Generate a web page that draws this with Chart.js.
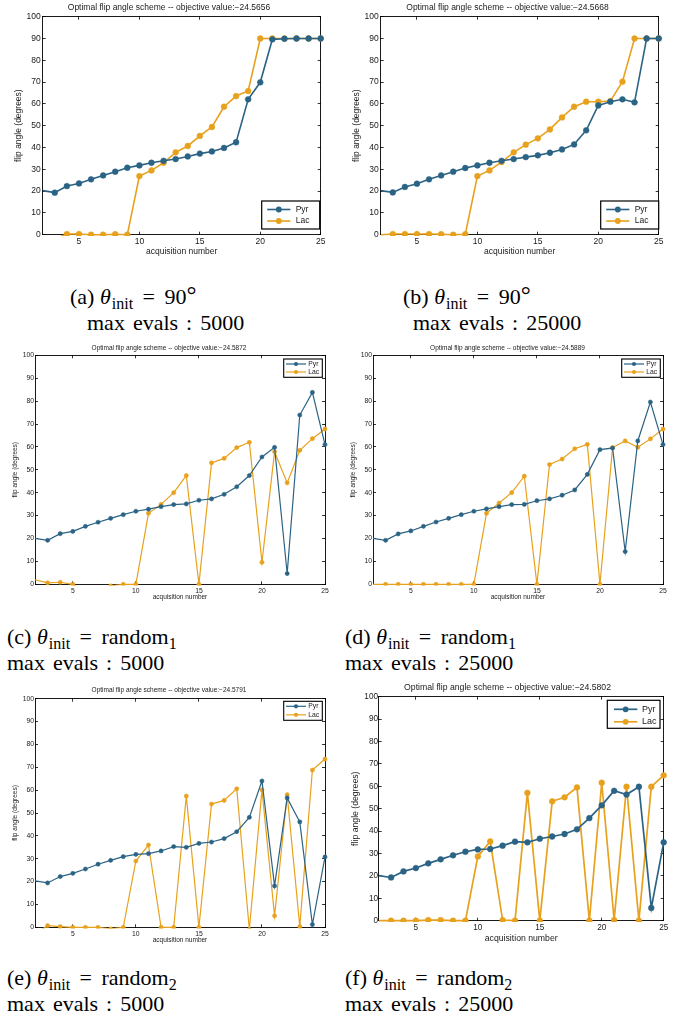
<!DOCTYPE html>
<html>
<head>
<meta charset="utf-8">
<script src="https://cdn.jsdelivr.net/npm/chart.js@4.4.1/dist/chart.umd.min.js"></script>
<style>
  html, body { margin: 0; padding: 0; background: #fff; }
  body { width: 677px; height: 1021px; position: relative; overflow: hidden; }
  canvas { position: absolute; }
  .cap { position: absolute; font-family: "Liberation Serif", "Times New Roman", serif; font-size: 22px; line-height: 26px; color: #000; white-space: nowrap; }
  .cap.evals { word-spacing: 2.5px; }
  .cap i { font-style: italic; margin-right: 1px; }
  .cap sub { font-size: 16px; line-height: 0; vertical-align: 0; position: relative; top: 5px; }
  .cap .rel { margin: 0 4px; }
  .cap .deg { font-size: 25px; line-height: 0; position: relative; top: -1px; }
</style>
</head>
<body>

<div class="cap" style="left:70px; top:284px;">(a) <i>θ</i><sub>init</sub> <span class="rel">=</span> 90<span class="deg">°</span></div>
<div class="cap evals" style="left:87px; top:310px;">max evals : 5000</div>
<div class="cap" style="left:403px; top:284px;">(b) <i>θ</i><sub>init</sub> <span class="rel">=</span> 90<span class="deg">°</span></div>
<div class="cap evals" style="left:413px; top:310px;">max evals : 25000</div>

<div class="cap" style="left:7px; top:624px;">(c) <i>θ</i><sub>init</sub> <span class="rel">=</span> random<sub>1</sub></div>
<div class="cap evals" style="left:7px; top:650px;">max evals : 5000</div>
<div class="cap" style="left:345px; top:624px;">(d) <i>θ</i><sub>init</sub> <span class="rel">=</span> random<sub>1</sub></div>
<div class="cap evals" style="left:345px; top:650px;">max evals : 25000</div>

<div class="cap" style="left:7px; top:965px;">(e) <i>θ</i><sub>init</sub> <span class="rel">=</span> random<sub>2</sub></div>
<div class="cap evals" style="left:7px; top:991px;">max evals : 5000</div>
<div class="cap" style="left:345px; top:965px;">(f) <i>θ</i><sub>init</sub> <span class="rel">=</span> random<sub>2</sub></div>
<div class="cap evals" style="left:345px; top:991px;">max evals : 25000</div>

<script>
// Acquisition indices shown on the x axis
const acquisition = [2, 3, 4, 5, 6, 7, 8, 9, 10, 11, 12, 13, 14, 15, 16, 17, 18, 19, 20, 21, 22, 23, 24, 25];
const xTickValues = [5, 10, 15, 20, 25];
const yTickValues = [0, 10, 20, 30, 40, 50, 60, 70, 80, 90, 100];
const seriesNames = ['Pyr', 'Lac'];
const objectiveValues = ['\u221224.5656', '\u221224.5668', '\u221224.5872', '\u221224.5889', '\u221224.5791', '\u221224.5802'];

// Optimised flip angles (degrees), theta_init = 90, 5000 evaluations
const pyrA = [20.2, 19.3, 22.3, 23.5, 25.4, 27.2, 28.9, 30.7, 31.8, 33.0, 33.9, 34.7, 35.9, 37.2, 38.2, 39.8, 42.4, 62.1, 69.9, 89.6, 89.9, 90, 90, 90];
const lacA = [-3, -2, 0.3, 0.3, 0, 0, 0.2, 0, 26.9, 29.5, 33.0, 37.8, 40.7, 45.3, 49.4, 58.7, 63.6, 65.9, 90, 90, 90, 90, 90, 90];
// theta_init = 90, 25000 evaluations
const pyrB = [20.2, 19.4, 21.9, 23.4, 25.4, 27.2, 28.9, 30.6, 31.8, 33.0, 33.9, 34.7, 35.6, 36.4, 37.6, 39.1, 41.4, 47.9, 59.3, 61.0, 62.1, 60.7, 90, 90];
const lacB = [0, 0.3, 0.3, 0.3, 0.3, 0.2, 0, 0.2, 26.9, 29.5, 33.3, 37.8, 41.3, 44.2, 48.3, 53.8, 58.7, 61.0, 61.0, 61.3, 70.2, 90, 90, 90];
// theta_init = random_1, 5000 evaluations
const pyrC = [20.1, 19.2, 22.1, 23.1, 25.3, 27.1, 28.8, 30.4, 31.9, 32.8, 33.9, 34.8, 35.1, 36.7, 37.3, 39.3, 42.6, 47.5, 55.6, 59.8, 4.7, 73.9, 83.8, 61.0];
const lacC = [2.0, 0.6, 0.9, 0, -3, -3, -0.7, 0, 0, 31.0, 34.9, 40.0, 47.5, 0, 53.0, 55.0, 59.7, 62.0, 9.6, 57.9, 44.3, 58.5, 63.6, 67.8];
// theta_init = random_1, 25000 evaluations
const pyrD = [20.1, 19.2, 22.0, 23.3, 25.3, 27.2, 28.8, 30.4, 31.9, 32.9, 33.9, 34.8, 34.9, 36.5, 37.3, 38.9, 41.2, 48.0, 58.8, 59.5, 14.3, 62.6, 79.6, 61.0];
const lacD = [0, 0, 0, 0, 0, 0, 0, 0, 0, 31.0, 35.5, 40.0, 47.2, 0, 52.3, 54.7, 59.2, 61.1, 0, 59.7, 62.6, 59.8, 63.5, 67.8];
// theta_init = random_2, 5000 evaluations
const pyrE = [20.3, 19.4, 22.2, 23.6, 25.5, 27.6, 29.3, 30.9, 31.9, 32.2, 33.4, 35.3, 35.0, 36.7, 37.3, 38.8, 41.8, 48.1, 64.0, 18.1, 56.6, 46.1, 1.2, 30.8];
const lacE = [-3, 0.7, 0.3, 0, 0, 0, -0.7, 0, 29.0, 36.0, 0, 0, 57.4, 0, 53.9, 55.5, 60.6, -1, 60.1, 5.0, 58.0, 0.3, 68.8, 73.6];
// theta_init = random_2, 25000 evaluations
const pyrF = [20.1, 19.3, 22.0, 23.5, 25.6, 27.4, 29.2, 30.8, 31.8, 32.0, 33.5, 35.3, 35.0, 36.6, 37.6, 38.7, 40.8, 45.8, 51.5, 58.0, 56.3, 59.8, 5.7, 35.0];
const lacF = [0, 0, 0, 0, 0.3, 0.3, 0, 0, 28.7, 35.4, 0.3, 0, 57.1, 0, 53.3, 55.1, 59.5, 0, 61.6, 0.3, 59.8, 0, 59.8, 64.9];

const PYR_COLOR = '#2b6385';
const LAC_COLOR = '#e7a11d';
const TEXT_COLOR = '#1a1a1a';
const SANS = '"Liberation Sans", Arial, Helvetica, sans-serif';

// Boxed legend with line + marker samples, placed inside the plot area
const boxLegend = {
  id: 'boxLegend',
  afterDraw(chart, args, o) {
    const { ctx, chartArea: a } = chart;
    const x0 = a.right - o.dx - o.w;
    const y0 = o.corner === 'se' ? a.bottom - o.dy - o.h : a.top + o.dy;
    ctx.save();
    ctx.fillStyle = '#fff';
    ctx.fillRect(x0, y0, o.w, o.h);
    ctx.strokeStyle = '#000';
    ctx.lineWidth = o.border;
    ctx.strokeRect(x0, y0, o.w, o.h);
    chart.data.datasets.forEach((ds, i) => {
      const y = y0 + o.rows[i];
      ctx.strokeStyle = ds.borderColor;
      ctx.lineWidth = ds.borderWidth;
      ctx.beginPath();
      ctx.moveTo(x0 + o.line[0], y);
      ctx.lineTo(x0 + o.line[1], y);
      ctx.stroke();
      ctx.fillStyle = ds.borderColor;
      ctx.beginPath();
      ctx.arc(x0 + (o.line[0] + o.line[1]) / 2, y, o.r, 0, Math.PI * 2);
      ctx.fill();
      ctx.fillStyle = TEXT_COLOR;
      ctx.font = o.fs + 'px ' + SANS;
      ctx.textAlign = 'left';
      ctx.textBaseline = 'middle';
      ctx.fillText(ds.label, x0 + o.text, y);
    });
    ctx.restore();
  }
};

const bigLegend = { corner: 'se', dx: 1, dy: 5.7, w: 58, h: 28, rows: [8.5, 20], line: [5.5, 28.7], text: 34, fs: 8.5, r: 2.9, border: 1.2 };

const panels = [
  { canvas: [0, 0, 338, 262], area: [42.7, 16.7, 320.7, 234.7], fs: 8.5, tickFs: 8.5, titleY: 7.3, yTitleX: 18.7, xTitleY: 251.7, xTickY: 241.3, yTickRight: 40.7,
    lw: 1.6, r: 2.9, pyr: pyrA, lac: lacA, objective: objectiveValues[0], legend: bigLegend },
  { canvas: [338, 0, 339, 262], area: [380.7, 16.7, 658.7, 234.7], fs: 8.5, tickFs: 8.5, titleY: 7.3, yTitleX: 356.3, xTitleY: 251.7, xTickY: 241.3, yTickRight: 378.7,
    lw: 1.6, r: 2.9, pyr: pyrB, lac: lacB, objective: objectiveValues[1], legend: Object.assign({}, bigLegend, { dx: 0 }) },
  { canvas: [0, 340, 338, 264], area: [35, 355.3, 325, 584.3], fs: 6.5, tickFs: 6.8, titleY: 348, yTitleX: 15, xTitleY: 597.7, xTickY: 591, yTickRight: 34,
    lw: 1.2, r: 2.1, pyr: pyrC, lac: lacC, objective: objectiveValues[2],
    legend: { corner: 'ne', dx: 2.7, dy: 3.7, w: 38.6, h: 18.3, rows: [5, 13], line: [2.3, 22.3], text: 24.6, fs: 6.8, r: 2.1, border: 1.1 } },
  { canvas: [338, 340, 339, 264], area: [373, 355.3, 663, 584.3], fs: 6.5, tickFs: 6.8, titleY: 348, yTitleX: 353, xTitleY: 597.7, xTickY: 591, yTickRight: 372,
    lw: 1.2, r: 2.1, pyr: pyrD, lac: lacD, objective: objectiveValues[3],
    legend: { corner: 'ne', dx: 2.7, dy: 3.7, w: 38.6, h: 18.3, rows: [5, 13], line: [2.3, 22.3], text: 24.6, fs: 6.8, r: 2.1, border: 1.1 } },
  { canvas: [0, 680, 338, 270], area: [35, 698.7, 325, 927.3], fs: 6.5, tickFs: 6.8, titleY: 690.7, yTitleX: 15, xTitleY: 940.3, xTickY: 934, yTickRight: 34,
    lw: 1.2, r: 2.1, pyr: pyrE, lac: lacE, objective: objectiveValues[4],
    legend: { corner: 'ne', dx: 2.7, dy: 2.6, w: 38.6, h: 19, rows: [5, 13.5], line: [2.3, 22.3], text: 24.6, fs: 6.8, r: 2.1, border: 1.1 } },
  { canvas: [338, 678, 339, 270], area: [378.7, 696.7, 663.7, 920.7], fs: 8.7, tickFs: 8.2, titleY: 687.3, yTitleX: 355.3, xTitleY: 938.3, xTickY: 927.3, yTickRight: 378,
    lw: 1.7, r: 2.9, pyr: pyrF, lac: lacF, objective: objectiveValues[5],
    legend: { corner: 'ne', dx: 3.7, dy: 3.6, w: 52.7, h: 28, rows: [9, 21.5], line: [6.7, 30], text: 34.7, fs: 9, r: 2.9, border: 1.2 } }
];

const TICK = -3; // inward tick marks

function buildChart(p) {
  const [cx, cy, cw, ch] = p.canvas;
  const [L, T, R, B] = p.area;
  const canvas = document.createElement('canvas');
  canvas.width = cw;
  canvas.height = ch;
  canvas.style.left = cx + 'px';
  canvas.style.top = cy + 'px';
  document.body.appendChild(canvas);

  const lh = p.fs * 1.2;
  const tlh = p.tickFs * 1.2;
  const font = { family: SANS, size: p.fs, lineHeight: 1.2, weight: 'normal' };
  const tickFont = { family: SANS, size: p.tickFs, lineHeight: 1.2, weight: 'normal' };
  const titlePadTop = p.titleY - cy - lh / 2;
  const titlePadBottom = (T - cy) - titlePadTop - lh;

  const grid = { display: true, drawOnChartArea: false, drawTicks: true, tickLength: TICK, color: '#000', lineWidth: 0.8 };
  const border = { display: true, color: '#000', width: 0.9 };
  const setTicks = vals => s => { s.ticks = vals.map(v => ({ value: v })); };
  const fixW = w => s => { s.width = w; };
  const fixH = h => s => { s.height = h; };
  const hideFirst = r => c => (c.dataIndex === 0 ? 0 : r);

  const series = (name, values, color) => ({
    label: name,
    data: acquisition.map((x, i) => ({ x, y: values[i] })),
    borderColor: color,
    backgroundColor: color,
    borderWidth: p.lw,
    pointRadius: hideFirst(p.r),
    pointHoverRadius: hideFirst(p.r),
    pointBackgroundColor: color,
    pointBorderColor: color,
    pointBorderWidth: 0.5,
    tension: 0,
    clip: { left: 0, top: 4, right: 4, bottom: 1.2 }
  });

  new Chart(canvas, {
    type: 'line',
    data: { datasets: [series(seriesNames[0], p.pyr, PYR_COLOR), series(seriesNames[1], p.lac, LAC_COLOR)] },
    options: {
      responsive: false,
      maintainAspectRatio: false,
      animation: false,
      events: [],
      layout: { padding: 0 },
      plugins: {
        legend: { display: false },
        tooltip: { enabled: false },
        title: {
          display: true,
          text: 'Optimal flip angle scheme -- objective value:' + p.objective,
          font: font,
          color: TEXT_COLOR,
          padding: { top: titlePadTop, bottom: titlePadBottom }
        },
        boxLegend: p.legend
      },
      scales: {
        x: {
          type: 'linear', position: 'bottom', min: 2, max: 25,
          afterBuildTicks: setTicks(xTickValues), afterFit: fixH(cy + ch - B),
          grid: grid, border: border,
          ticks: { font: tickFont, color: TEXT_COLOR, padding: (p.xTickY - B) - TICK - tlh / 2, maxRotation: 0, autoSkip: false },
          title: { display: true, text: 'acquisition number', font: font, color: TEXT_COLOR, padding: { top: 0, bottom: cy + ch - p.xTitleY - lh / 2 } }
        },
        x2: {
          type: 'linear', position: 'top', min: 2, max: 25,
          afterBuildTicks: setTicks(xTickValues), afterFit: fixH(0),
          grid: grid, border: border, ticks: { display: false }
        },
        y: {
          type: 'linear', position: 'left', min: 0, max: 100,
          afterBuildTicks: setTicks(yTickValues), afterFit: fixW(L - cx),
          grid: grid, border: border,
          ticks: { font: tickFont, color: TEXT_COLOR, padding: (L - p.yTickRight) - TICK, autoSkip: false },
          title: { display: true, text: 'flip angle (degrees)', font: font, color: TEXT_COLOR, padding: { top: p.yTitleX - cx - lh / 2, bottom: 0 } }
        },
        y2: {
          type: 'linear', position: 'right', min: 0, max: 100,
          afterBuildTicks: setTicks(yTickValues), afterFit: fixW(cx + cw - R),
          grid: grid, border: border, ticks: { display: false }
        }
      }
    },
    plugins: [boxLegend]
  });
}

panels.forEach(buildChart);
</script>
</body>
</html>
